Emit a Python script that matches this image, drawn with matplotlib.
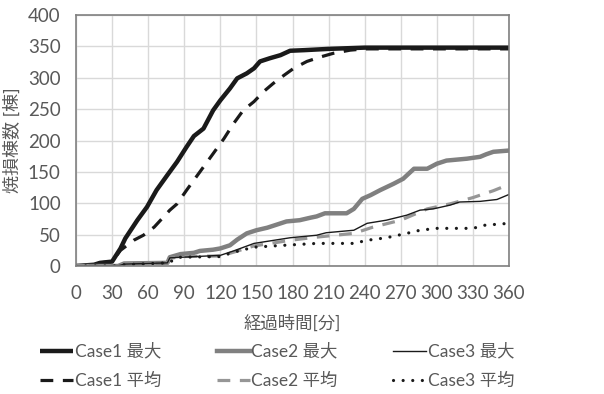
import numpy as np
import matplotlib.pyplot as plt

plt.rcParams['font.family'] = ['Lato', 'Noto Sans CJK JP', 'DejaVu Sans']

# elapsed time [min] and burned buildings
t_c1_max = [0, 15, 20, 30, 37, 41, 51, 59, 67, 76, 84, 92, 98, 106, 114, 120, 128,
            134, 142, 148, 153, 161, 170, 178, 190, 210, 240, 360]
c1_max = [0, 2, 5, 7, 28, 44, 73, 94, 121, 145, 166, 190, 207, 219, 248, 264, 283,
          299, 307, 315, 326, 331, 336, 343, 344, 346, 348, 348]

t_c1_avg = [0, 15, 20, 30, 37, 48, 56, 65, 78, 84, 92, 103, 114, 123, 131, 139, 148,
            156, 164, 173, 181, 192, 203, 214, 228, 240, 360]
c1_avg = [0, 2, 5, 7, 25, 41, 49, 62, 89, 99, 121, 150, 179, 203, 227, 248, 262,
          278, 291, 304, 315, 326, 333, 339, 344, 346, 346]

t_c2_max = [0, 35, 40, 76, 78, 87, 98, 103, 114, 120, 128, 134, 142, 150, 159, 167,
            175, 186, 195, 200, 207, 225, 231, 238, 245, 253, 264, 272, 281, 292, 300,
            308, 325, 336, 341, 347, 360]
c2_max = [0, 0, 4, 5, 14, 19, 21, 24, 26, 28, 33, 42, 52, 57, 61, 66, 71, 73, 77, 79,
          84, 84, 91, 107, 113, 121, 131, 139, 155, 155, 163, 168, 171, 174, 178, 182, 184]

t_c2_avg = [0, 35, 40, 76, 78, 87, 120, 131, 148, 165, 178, 200, 231, 247, 270, 292,
            311, 330, 347, 360]
c2_avg = [0, 0, 3, 5, 12, 15, 16, 22, 32, 37, 41, 46, 52, 62, 73, 91, 99, 109, 120, 130]

t_c3_max = [0, 35, 40, 76, 78, 120, 131, 148, 178, 200, 208, 231, 242, 258, 275, 286,
            297, 311, 319, 336, 350, 360]
c3_max = [0, 0, 3, 5, 13, 17, 24, 36, 45, 49, 53, 57, 68, 73, 81, 89, 91, 97, 102,
          103, 106, 114]

t_c3_avg = [0, 35, 40, 76, 87, 120, 131, 148, 173, 200, 231, 242, 258, 275, 286, 300,
            330, 340, 360]
c3_avg = [0, 0, 2, 5, 14, 15, 22, 30, 33, 36, 36, 41, 45, 52, 57, 60, 60, 65, 68]

x_ticks = np.arange(0, 361, 30)
y_ticks = np.arange(0, 401, 50)
text_col = '#595959'

fig = plt.figure(figsize=(6.04, 3.94), dpi=100)
ax = fig.add_axes([76 / 604, 1 - 266 / 394, 433 / 604, 251 / 394])

ax.plot(t_c1_max, c1_max, color='#1a1a1a', lw=3.2, solid_capstyle='butt', label='Case1 最大')
ax.plot(t_c1_avg, c1_avg, color='#1a1a1a', lw=2.3, dashes=(4, 3), label='Case1 平均')
ax.plot(t_c2_max, c2_max, color='#808080', lw=3.2, label='Case2 最大')
ax.plot(t_c2_avg, c2_avg, color='#969696', lw=2.3, dashes=(4, 3), label='Case2 平均')
ax.plot(t_c3_max, c3_max, color='#1a1a1a', lw=1.0, label='Case3 最大')
ax.plot(t_c3_avg, c3_avg, color='#1a1a1a', lw=2.3, dashes=(0.01, 3.0),
        dash_capstyle='round', label='Case3 平均')

ax.set_xlim(0, 360)
ax.set_ylim(0, 400)
ax.set_xticks(x_ticks)
ax.set_yticks(y_ticks)
ax.grid(True, color='#d9d9d9', lw=1)
ax.set_axisbelow(True)
ax.tick_params(length=0, labelsize=13.5, labelcolor=text_col)
ax.tick_params(axis='x', pad=14)
ax.tick_params(axis='y', pad=11)
for s in ax.spines.values():
    s.set_color('#808080')
    s.set_linewidth(1.2)

ax.set_xlabel('経過時間[分]', fontsize=12.5, color=text_col, labelpad=9)
ax.set_ylabel('焼損棟数 [棟]', fontsize=13, color=text_col, labelpad=5)

ax.legend(loc='upper left', bbox_to_anchor=(40 / 604, 1 - 343 / 394),
          bbox_transform=fig.transFigure, ncol=3, frameon=False,
          fontsize=12.5, labelcolor=text_col, handlelength=1.9, handletextpad=0.1,
          columnspacing=3.2, labelspacing=0.75, borderpad=0, borderaxespad=0)

fig.savefig('out.png', dpi=100)
